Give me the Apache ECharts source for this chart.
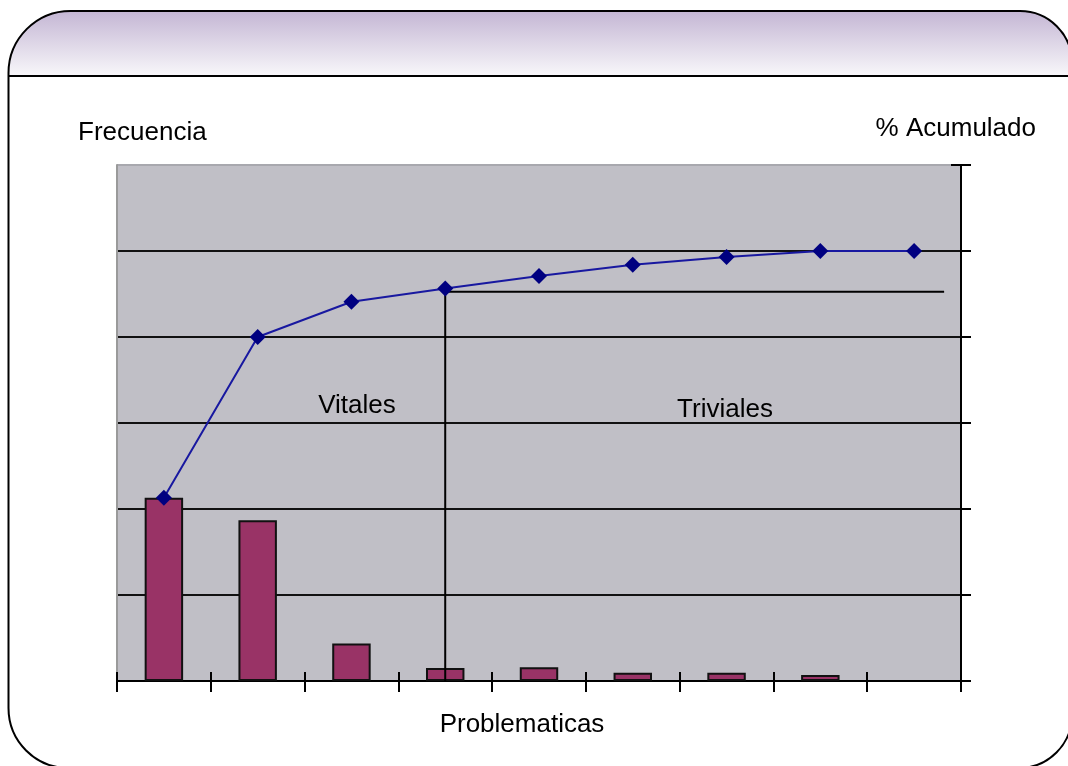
<!DOCTYPE html>
<html>
<head>
<meta charset="utf-8">
<script src="https://cdn.jsdelivr.net/npm/echarts@6/dist/echarts.min.js"></script>
<style>
html,body{margin:0;padding:0;background:#fff;}
#chart{width:1068px;height:766px;}
</style>
</head>
<body>
<div id="chart"></div>
<script>
// ---- data ----
var categories = ['1','2','3','4','5','6','7','8','9'];
var frecuencia = [42.6, 37.4, 8.7, 3.0, 3.2, 1.9, 1.9, 1.4, null];
var acumulado = [42.6, 80.0, 88.2, 91.3, 94.2, 96.8, 98.6, 100, 100];
var axisMax = 120;
var axisStep = 20;
// division between "vitales" and "triviales" (x on 0..9 slot scale, y in %)
var cutX = 3.5;
var cutY = 90.5;
var cutEndX = 8.82;
var labels = {
  yLeft: 'Frecuencia',
  yRight: '% Acumulado',
  x: 'Problematicas',
  vitales: 'Vitales',
  triviales: 'Triviales'
};

var chart = echarts.init(document.getElementById('chart'));
var FONT = '26px "Liberation Sans", Arial, sans-serif';

var option = {
  animation: false,
  grid: {
    left: 117, right: 107, top: 165, bottom: 85,
    show: true, backgroundColor: '#c0bfc6', borderWidth: 0
  },
  xAxis: [
    {
      type: 'category', data: categories, position: 'bottom',
      axisLine: {lineStyle: {color: '#000', width: 2}},
      axisTick: {show: true, interval: 0, length: 11, lineStyle: {color: '#000', width: 2}},
      axisLabel: {show: false}
    },
    {
      type: 'category', data: categories, position: 'bottom',
      axisLine: {show: false},
      axisTick: {show: true, inside: true, interval: 0, length: 9, lineStyle: {color: '#000', width: 2}},
      axisLabel: {show: false}
    },
    {
      type: 'value', min: 0, max: categories.length, position: 'top', show: false
    }
  ],
  yAxis: [
    {
      type: 'value', min: 0, max: axisMax, interval: axisStep, position: 'left',
      axisLine: {show: true, lineStyle: {color: '#9a9a9a', width: 2}},
      axisTick: {show: false}, axisLabel: {show: false}, splitLine: {show: false}
    },
    {
      type: 'value', min: 0, max: axisMax, interval: axisStep, position: 'right',
      axisLine: {show: true, lineStyle: {color: '#000', width: 2}},
      axisTick: {show: true, length: 10, lineStyle: {color: '#000', width: 2}},
      axisLabel: {show: false},
      splitLine: {show: true, lineStyle: {width: 2, color: ['#000','#111','#111','#111','#111','#111','#a8a8ae']}}
    }
  ],
  series: [
    {
      type: 'bar', xAxisIndex: 0, yAxisIndex: 0, data: frecuencia,
      barWidth: '41%',
      itemStyle: {color: '#993366', borderColor: '#111', borderWidth: 2},
      z: 2
    },
    {
      type: 'line', xAxisIndex: 2, yAxisIndex: 1,
      data: [[cutEndX, cutY], [cutX, cutY], [cutX, 0]],
      symbol: 'none', lineStyle: {color: '#000', width: 2}, z: 3
    },
    {
      type: 'line', xAxisIndex: 0, yAxisIndex: 1, data: acumulado,
      symbol: 'diamond', symbolSize: 16,
      itemStyle: {color: '#000080'},
      lineStyle: {color: '#1818a0', width: 2}, z: 4
    }
  ],
  graphic: [
    {
      type: 'rect', z: 0, silent: true,
      shape: {x: 8.5, y: 11, width: 1063.5, height: 65, r: [62, 52, 0, 0]},
      style: {
        fill: new echarts.graphic.LinearGradient(0, 0, 0, 1, [
          {offset: 0, color: '#c4b6d4'},
          {offset: 1, color: '#f8f7fa'}
        ]),
        stroke: null
      }
    },
    {
      type: 'rect', z: 1, silent: true,
      shape: {x: 8.5, y: 11, width: 1063.5, height: 757, r: [62, 52, 53, 60]},
      style: {fill: null, stroke: '#000', lineWidth: 2}
    },
    {
      type: 'line', z: 1, silent: true,
      shape: {x1: 8.5, y1: 76, x2: 1072, y2: 76},
      style: {stroke: '#000', lineWidth: 2}
    },
    {
      type: 'line', z: 1, silent: true,
      shape: {x1: 951, y1: 165, x2: 961, y2: 165},
      style: {stroke: '#000', lineWidth: 2}
    },
    {type: 'text', z: 5, style: {x: 78, y: 133, text: labels.yLeft, font: FONT, fill: '#000', verticalAlign: 'middle', align: 'left'}},
    {type: 'text', z: 5, style: {x: 1036, y: 129, text: labels.yRight, font: FONT, fill: '#000', verticalAlign: 'middle', align: 'right'}},
    {type: 'text', z: 5, style: {x: 522, y: 725, text: labels.x, font: FONT, fill: '#000', verticalAlign: 'middle', align: 'center'}},
    {type: 'text', z: 5, style: {x: 357, y: 406, text: labels.vitales, font: FONT, fill: '#000', verticalAlign: 'middle', align: 'center'}},
    {type: 'text', z: 5, style: {x: 725, y: 410, text: labels.triviales, font: FONT, fill: '#000', verticalAlign: 'middle', align: 'center'}}
  ]
};
chart.setOption(option);
</script>
</body>
</html>
